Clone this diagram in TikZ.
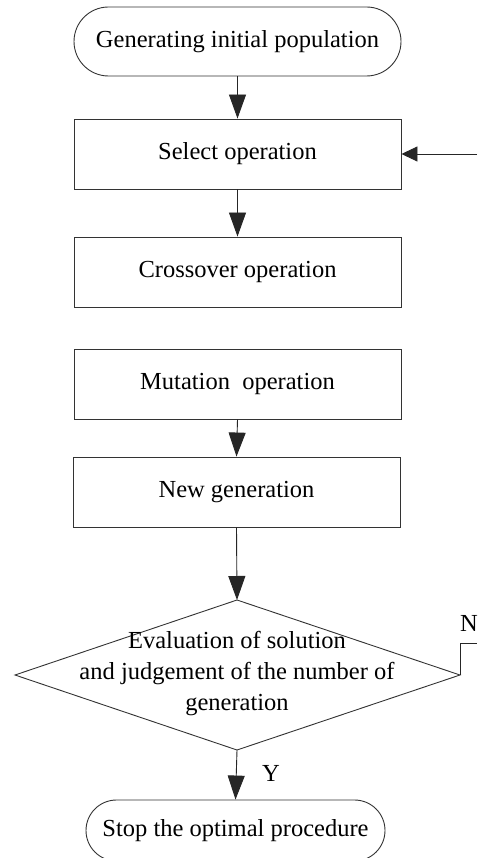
\documentclass[tikz,border=0pt]{standalone}
\usepackage{fontspec}
\setmainfont{Liberation Serif}
\usetikzlibrary{arrows.meta}
\begin{document}
\begin{tikzpicture}[x=1pt,y=-1pt,
  every node/.style={font=\fontsize{24.5}{31}\selectfont},
  procbox/.style={draw=black!80, line width=0.9pt, rectangle, minimum width=327pt, minimum height=70pt, inner sep=0pt},
  termbox/.style={draw=black!80, line width=0.9pt, rectangle, inner sep=0pt},
  conn/.style={draw=black!85, line width=0.9pt, -{Triangle[width=17pt,length=24pt]}},
  connsmall/.style={draw=black!85, line width=0.9pt, -{Triangle[width=15pt,length=16pt]}},
  plainline/.style={draw=black!85, line width=0.9pt}
]
\useasboundingbox (0,0) rectangle (477,858);
\fill[white] (0,0) rectangle (477,858);

\node[termbox, rounded corners=34.5pt, minimum width=327pt, minimum height=69pt] (start) at (237.5,41.5) {Generating initial population};
\node[procbox] (select) at (237.5,154) {Select operation};
\node[procbox] (cross) at (237.5,272) {Crossover operation};
\node[procbox] (mut) at (237.5,384) {Mutation\ \ operation};
\node[procbox] (newgen) at (236.5,492) {New generation};

\coordinate (dtop) at (237,600);
\coordinate (dleft) at (15,675);
\coordinate (dright) at (460,675);
\coordinate (dbot) at (237,750);
\draw[draw=black!80, line width=0.9pt] (dtop) -- (dright) -- (dbot) -- (dleft) -- cycle;
\node[align=center, inner sep=0pt] (evaltext) at (237,674) {Evaluation of solution\\and judgement of the number of\\generation};

\node[termbox, rounded corners=30.5pt, minimum width=299pt, minimum height=61pt] (stop) at (235.5,830.5) {Stop the optimal procedure};

\coordinate (nturn) at (460,643);
\coordinate (nexit) at (477,643);
\coordinate (fbin) at (477,154);

\draw[conn] (start.south) -- (select.north);
\draw[conn] (select.south) -- (cross.north);
\draw[conn] (mut.south) -- (newgen.north);
\draw[conn] (newgen.south) -- (dtop);
\draw[conn] (dbot) -- (stop.north);
\draw[plainline] (dright) -- (nturn) -- (nexit);
\draw[connsmall] (fbin) -- (select.east);

\node[anchor=center, inner sep=0pt] (ylabel) at (271,773) {Y};
\node[anchor=west, inner sep=0pt] (nlabel) at (460,623) {N};
\end{tikzpicture}
\end{document}
